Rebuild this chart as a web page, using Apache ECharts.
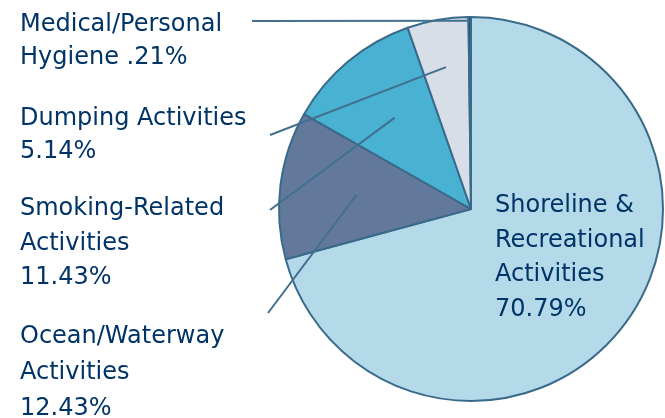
<!DOCTYPE html>
<html>
<head>
<meta charset="utf-8">
<script src="https://cdn.jsdelivr.net/npm/echarts@6/dist/echarts.min.js"></script>
<style>
  html, body { margin: 0; padding: 0; background: #fff; }
  #chart { width: 665px; height: 418px; }
</style>
</head>
<body>
<div id="chart"></div>
<script>
// slices clockwise from 12 o'clock
const categories = ['Shoreline & Recreational Activities', 'Ocean/Waterway Activities', 'Smoking-Related Activities', 'Dumping Activities', 'Medical/Personal Hygiene']
const values = [70.79, 12.43, 11.43, 5.14, 0.21]
const labelTexts = [
  'Shoreline &\nRecreational\nActivities\n70.79%',
  'Ocean/Waterway\nActivities\n12.43%',
  'Smoking-Related\nActivities\n11.43%',
  'Dumping Activities\n5.14%',
  'Medical/Personal\nHygiene .21%'
]
const colors = ['#b4d9e8', '#62799b', '#49b1d1', '#d7dee8', '#003366']

const center = [471, 209]
const radius = 192

// where each label box sits, and where its leader line starts / how deep it goes into the slice
const labelPos = [
  { x: 495, y: 189, lh: 34.5 },
  { x: 20, y: 319, lh: 36, start: [268, 313], depth: 0.6 },
  { x: 20, y: 192, lh: 34.5, start: [270, 210], depth: 0.62 },
  { x: 20, y: 102, lh: 33, start: [270, 135], depth: 0.75 },
  { x: 20, y: 8, lh: 33, start: [252, 21], depth: 0.98 }
]

// mid angle of each slice (deg, math convention) from the values
const total = values.reduce((a, b) => a + b, 0)
let acc = 0
const midAngles = values.map(v => {
  const mid = 90 - (acc + v / 2) / total * 360
  acc += v
  return mid
})

const chart = echarts.init(document.getElementById('chart'))

const pieBase = {
  type: 'pie',
  center: center,
  radius: radius,
  startAngle: 90,
  clockwise: true,
  avoidLabelOverlap: false,
  silent: true
}

const option = {
  animation: false,
  series: [
    // the slices
    Object.assign({}, pieBase, {
      z: 2,
      itemStyle: {
        borderColor: '#3a6a8a',
        borderWidth: 2
      },
      label: { show: false },
      labelLine: { show: false },
      data: categories.map((name, i) => ({
        name: name,
        value: values[i],
        itemStyle: { color: colors[i] }
      }))
    }),
    // same pie, invisible, only to put labels + leader lines on top
    Object.assign({}, pieBase, {
      z: 3,
      itemStyle: { color: 'rgba(0,0,0,0)', borderWidth: 0 },
      label: {
        show: true,
        position: 'outside',
        color: '#003366',
        fontFamily: 'DejaVu Sans',
        fontSize: 24,
        lineHeight: 34,
        align: 'left',
        formatter: p => labelTexts[p.dataIndex]
      },
      labelLine: {
        show: true,
        lineStyle: { color: '#41708f', width: 2 }
      },
      labelLayout: params => {
        const p = labelPos[params.dataIndex]
        if (!p.start) {
          return { x: p.x, y: p.y, align: 'left', verticalAlign: 'top' }
        }
        const a = midAngles[params.dataIndex] * Math.PI / 180
        const end = [
          center[0] + Math.cos(a) * radius * p.depth,
          center[1] - Math.sin(a) * radius * p.depth
        ]
        return {
          x: p.x,
          y: p.y,
          align: 'left',
          verticalAlign: 'top',
          labelLinePoints: [end, p.start, p.start]
        }
      },
      data: categories.map((name, i) => ({
        name: name,
        value: values[i],
        label: { lineHeight: labelPos[i].lh },
        labelLine: { show: i !== 0 }
      }))
    })
  ]
}

chart.setOption(option)
</script>
</body>
</html>
